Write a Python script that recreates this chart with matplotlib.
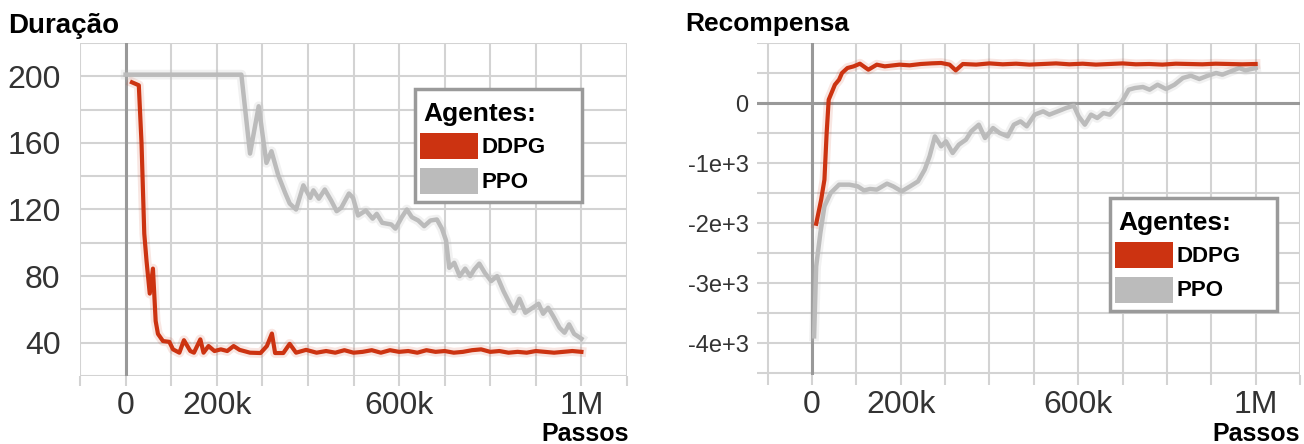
import numpy as np
import matplotlib.pyplot as plt
from matplotlib.patches import Rectangle
from matplotlib.ticker import FixedLocator, MultipleLocator

# ---- data ----
agents = ['DDPG', 'PPO']
x_ticks = [0, 200000, 600000, 1000000]
x_tick_labels = ['0', '200k', '600k', '1M']

# Duracao - PPO
dur_ppo_x = [0, 100000, 200000, 254000, 273000, 292000, 309000, 320000, 335000, 350000,
             360000, 374000, 390000, 405000, 412000, 424000, 437000, 451000, 463000, 473000,
             490000, 499000, 510000, 527000, 542000, 551000, 563000, 583000, 592000, 606000,
             617000, 628000, 642000, 655000, 669000, 683000, 694000, 703000, 710000, 721000,
             733000, 745000, 756000, 765000, 776000, 788000, 802000, 815000, 829000, 843000,
             852000, 864000, 877000, 893000, 906000, 916000, 927000, 938000, 952000, 963000,
             973000, 984000, 1000000]
dur_ppo_y = [201, 201, 201, 201, 153.6, 182, 148, 155, 140.5, 130,
             123.6, 120, 134.5, 127, 131.5, 126.5, 132, 125.4, 119, 121,
             129.6, 127, 116.4, 119.4, 114.5, 117.4, 112, 111, 108.5, 115.4,
             120, 115.4, 113.4, 110, 113.4, 114, 108.5, 101.4, 85, 88,
             80, 84.5, 80, 84, 87.5, 82, 77, 80, 71, 63.4,
             59, 66.4, 58, 61, 63.4, 57.4, 61, 56, 49, 46,
             51, 45.3, 42.4]

# Duracao - DDPG
dur_ddpg_x = [14000, 29000, 35000, 41000, 46000, 53000, 60000, 66000, 71000, 82000,
              96000, 104000, 118000, 128000, 142000, 150000, 164000, 171000, 182000, 195000,
              209000, 223000, 237000, 250000, 273000, 296000, 310000, 321000, 328000, 346000,
              360000, 374000, 396000, 419000, 440000, 460000, 480000, 500000, 520000, 540000,
              560000, 580000, 600000, 620000, 640000, 660000, 680000, 700000, 720000, 740000,
              760000, 780000, 800000, 820000, 840000, 860000, 880000, 900000, 920000, 940000,
              960000, 980000, 1000000]
dur_ddpg_y = [196.4, 194.6, 159.6, 105.5, 89, 69.5, 84.5, 53, 45.3, 41,
              40.5, 36, 34, 41.5, 35, 34, 42, 34, 38, 35,
              36, 35, 38, 35.7, 34, 33.8, 38, 45.5, 33.8, 33.8,
              39.3, 34, 35.7, 34, 35, 34, 35.5, 34, 34.5, 35.5,
              34, 35.5, 34.5, 35, 34, 35.5, 34.5, 35, 34, 34.5,
              35.5, 36, 34.5, 35, 34, 34.5, 34, 35, 34.5, 34,
              34.5, 35, 34.5]

# Recompensa - DDPG
rec_ddpg_x = [9400, 20600, 28000, 33000, 37600, 47000, 51600, 61000, 67600, 79800,
              94000, 108000, 127000, 146000, 164000, 197000, 220000, 245000, 270000, 291000,
              310000, 324000, 340000, 370000, 400000, 430000, 460000, 490000, 520000, 550000,
              580000, 610000, 640000, 670000, 700000, 730000, 760000, 790000, 820000, 850000,
              880000, 910000, 940000, 970000, 1000000]
rec_ddpg_y = [-2012, -1611, -1278, -500, 55, 222, 305, 389, 500, 583,
              611, 655, 555, 639, 611, 639, 628, 650, 661, 667,
              640, 544, 650, 640, 660, 645, 655, 640, 650, 660,
              645, 655, 640, 650, 660, 645, 650, 640, 655, 650,
              645, 655, 650, 645, 650]

# Recompensa - PPO
rec_ppo_x = [4700, 9400, 18800, 28000, 42000, 61000, 84500, 103000, 117000, 131000,
             146000, 169000, 183000, 202000, 221000, 239000, 254000, 265000, 277000, 291000,
             302000, 317000, 331000, 347000, 359000, 376000, 390000, 408000, 423000, 441000,
             455000, 470000, 484000, 502000, 521000, 535000, 554000, 573000, 590000, 601000,
             615000, 629000, 643000, 657000, 671000, 685000, 699000, 714000, 728000, 746000,
             761000, 779000, 798000, 817000, 836000, 854000, 873000, 892000, 911000, 925000,
             944000, 963000, 977000, 1000000]
rec_ppo_y = [-3889, -2722, -2167, -1722, -1500, -1361, -1361, -1389, -1456, -1433,
             -1444, -1344, -1389, -1472, -1389, -1306, -1111, -889, -556, -722,
             -639, -833, -694, -611, -472, -361, -583, -417, -500, -556,
             -361, -306, -389, -194, -139, -194, -139, -83, -44, -222,
             -361, -194, -250, -167, -194, -83, 28, 222, 250, 267,
             222, 305, 233, 305, 417, 455, 400, 455, 500, 472,
             528, 583, 544, 583]

RED = '#cc3311'
GRAY = '#bbbbbb'
GRID = '#d3d3d3'
ZERO = '#999999'
TXT = '#333333'

W, H = 1304, 444
fig = plt.figure(figsize=(W / 100, H / 100), dpi=100)


def px(x, y):
    return x / W, 1 - y / H


def style_axes(ax, ytick_size):
    for s in ax.spines.values():
        s.set_visible(False)
    ax.xaxis.set_major_locator(FixedLocator(x_ticks))
    ax.set_xticklabels(x_tick_labels)
    ax.xaxis.set_minor_locator(MultipleLocator(100000))
    ax.grid(True, which='both', color=GRID, linewidth=1.5)
    ax.tick_params(axis='x', which='both', length=7, width=1.5, color=GRID,
                   labelsize=23, labelcolor=TXT, pad=4)
    ax.tick_params(axis='y', which='both', length=0, labelsize=ytick_size,
                   labelcolor=TXT)
    ax.set_axisbelow(True)
    for lab in ax.get_xticklabels() + ax.get_yticklabels():
        lab.set_family('Liberation Sans')


def draw_legend(x0, y0):
    # box
    fig.add_artist(Rectangle(px(x0, y0 + 113), 167 / W, 113 / H, transform=fig.transFigure,
                             facecolor='white', edgecolor='#9a9a9a', linewidth=2.5, zorder=5))
    fig.text(*px(x0 + 8, y0 + 32), 'Agentes:', fontsize=19, fontweight='bold',
             family='Liberation Sans', va='baseline', ha='left', zorder=6)
    for i, (name, col) in enumerate(zip(agents, [RED, GRAY])):
        top = y0 + 44 + i * 35
        fig.add_artist(Rectangle(px(x0 + 5, top + 26), 58 / W, 26 / H,
                                 transform=fig.transFigure, facecolor=col,
                                 edgecolor='none', zorder=6))
        fig.text(*px(x0 + 67, top + 14), name, fontsize=16, fontweight='bold',
                 family='Liberation Sans', va='center', ha='left', zorder=6)


# ---- left panel: Duracao ----
ax1 = fig.add_axes([80 / W, (H - 376) / H, 547 / W, 333 / H])
ax1.set_xlim(-100000, 1100000)
ax1.set_ylim(20, 220)
ax1.yaxis.set_major_locator(FixedLocator([40, 80, 120, 160, 200]))
ax1.yaxis.set_minor_locator(MultipleLocator(20))
style_axes(ax1, 23)
ax1.tick_params(axis='y', pad=14)
ax1.axvline(0, color=ZERO, linewidth=2.2, zorder=1)
ax1.plot(dur_ppo_x, dur_ppo_y, color=GRAY, linewidth=7, alpha=0.2, zorder=2)
ax1.plot(dur_ppo_x, dur_ppo_y, color=GRAY, linewidth=3.2, zorder=3)
ax1.plot(dur_ddpg_x, dur_ddpg_y, color=RED, linewidth=7, alpha=0.12, zorder=2)
ax1.plot(dur_ddpg_x, dur_ddpg_y, color=RED, linewidth=3.0, zorder=3)

# ---- right panel: Recompensa ----
ax2 = fig.add_axes([757 / W, (H - 375) / H, 543 / W, 332 / H])
ax2.set_xlim(-124000, 1100000)
ax2.set_ylim(-4533, 1000)
ax2.yaxis.set_major_locator(FixedLocator([-4000, -3000, -2000, -1000, 0]))
ax2.set_yticklabels(['-4e+3', '-3e+3', '-2e+3', '-1e+3', '0'])
ax2.yaxis.set_minor_locator(MultipleLocator(500))
style_axes(ax2, 17)
ax2.tick_params(axis='y', pad=6)
ax2.axvline(0, color=ZERO, linewidth=2.2, zorder=1)
ax2.axhline(0, color=ZERO, linewidth=2.2, zorder=1)
ax2.plot(rec_ppo_x, rec_ppo_y, color=GRAY, linewidth=7, alpha=0.2, zorder=2)
ax2.plot(rec_ppo_x, rec_ppo_y, color=GRAY, linewidth=3.2, zorder=3)
ax2.plot(rec_ddpg_x, rec_ddpg_y, color=RED, linewidth=7, alpha=0.12, zorder=2)
ax2.plot(rec_ddpg_x, rec_ddpg_y, color=RED, linewidth=3.0, zorder=3)

# titles and axis names
fig.text(*px(8, 33), 'Duração', fontsize=20, fontweight='bold', family='Liberation Sans',
         va='baseline', ha='left')
fig.text(*px(685, 31), 'Recompensa', fontsize=19, fontweight='bold',
         family='Liberation Sans', va='baseline', ha='left')
fig.text(*px(629, 441), 'Passos', fontsize=18, fontweight='bold', family='Liberation Sans',
         va='baseline', ha='right')
fig.text(*px(1300, 441), 'Passos', fontsize=18, fontweight='bold',
         family='Liberation Sans', va='baseline', ha='right')

draw_legend(415, 89)
draw_legend(1110, 198)

fig.savefig('out.png', dpi=100, facecolor='white')
